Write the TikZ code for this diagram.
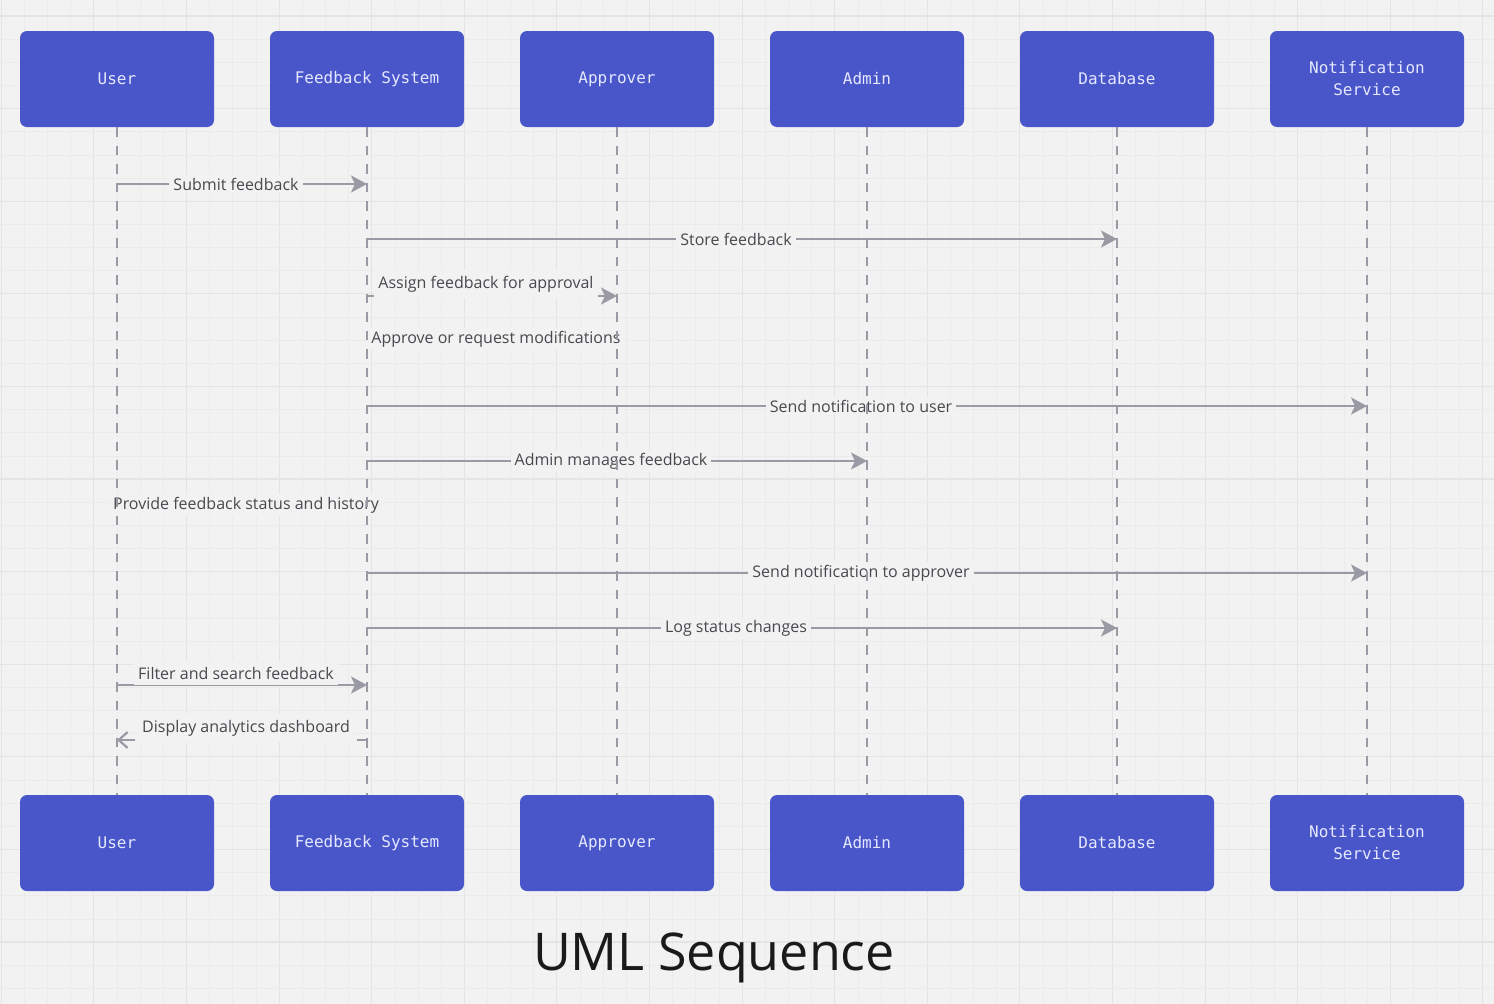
\documentclass[tikz,border=0pt]{standalone}
\usepackage{fontspec}
\setmainfont{Open Sans}
\newfontfamily\boxmono{DejaVu Sans Mono}
\newfontfamily\lblfont{Open Sans}
\usetikzlibrary{arrows.meta}
\definecolor{bgc}{HTML}{F2F2F2}
\definecolor{gridminor}{HTML}{EBEBEB}
\definecolor{gridmajor}{HTML}{E4E4E4}
\definecolor{boxblue}{HTML}{4856C9}
\definecolor{boxtext}{HTML}{E6E8FF}
\definecolor{linec}{HTML}{9A9AA4}
\definecolor{lblc}{HTML}{48484E}
\definecolor{titlec}{HTML}{1A1A1A}
\begin{document}
\begin{tikzpicture}[x=1pt,y=-1pt,
  actor/.style={rectangle,rounded corners=7pt,fill=boxblue,minimum width=194pt,minimum height=96pt,
    font=\boxmono\fontsize{16}{22}\selectfont,text=boxtext,align=center,inner sep=0pt},
  life/.style={draw=linec,line width=2.3pt,dash pattern=on 9.5pt off 9pt},
  msg/.style={draw=linec,line width=2.2pt,-{Stealth[length=16pt,width=17pt,inset=4pt]}},
  retmsg/.style={draw=linec,line width=2.2pt,dash pattern=on 18pt off 6pt,-{Straight Barb[length=9pt,width=16pt,line width=2.2pt]}},
  plain/.style={draw=linec,line width=2.2pt},
  lbl/.style={fill=bgc,text=lblc,font=\lblfont\fontsize{16}{19}\selectfont,inner xsep=4pt,inner ysep=3pt}]
\useasboundingbox (0,0) rectangle (1494,1004);
\fill[bgc] (0,0) rectangle (1494,1004);
% grid
\foreach \i in {0,...,65}{
  \pgfmathsetmacro{\gx}{1.3+\i*23.15}
  \pgfmathtruncatemacro{\mj}{mod(\i,4)}
  \ifnum\mj=0 \draw[gridmajor,line width=1.1pt] (\gx,0) -- (\gx,1004);
  \else \draw[gridminor,line width=0.7pt] (\gx,0) -- (\gx,1004); \fi
}
\foreach \j in {0,...,43}{
  \pgfmathsetmacro{\gy}{16+\j*23.15}
  \pgfmathtruncatemacro{\mj}{mod(\j,4)}
  \ifnum\mj=0 \draw[gridmajor,line width=1.1pt] (0,\gy) -- (1494,\gy);
  \else \draw[gridminor,line width=0.7pt] (0,\gy) -- (1494,\gy); \fi
}
% actors
\node[actor] (u1)  at (117,79) {User};
\node[actor] (f1)  at (367,79) {Feedback System};
\node[actor] (a1)  at (617,79) {Approver};
\node[actor] (ad1) at (867,79) {Admin};
\node[actor] (db1) at (1117,79) {Database};
\node[actor] (n1)  at (1367,79) {Notification\\Service};
\node[actor] (u2)  at (117,843) {User};
\node[actor] (f2)  at (367,843) {Feedback System};
\node[actor] (a2)  at (617,843) {Approver};
\node[actor] (ad2) at (867,843) {Admin};
\node[actor] (db2) at (1117,843) {Database};
\node[actor] (n2)  at (1367,843) {Notification\\Service};
% messages
\draw[msg] (u1 |- 0,184) -- (f1 |- 0,184);
\node[lbl] (l1) at (236,184) {Submit feedback};
\draw[msg] (f1 |- 0,239) -- (db1 |- 0,239);
\node[lbl] (l2) at (736,239) {Store feedback};
\draw[msg] (f1 |- 0,303) |- (a1 |- 0,296);
\node[lbl,inner ysep=6pt] (l3) at (486,284) {Assign feedback for approval};
\draw[plain] (a1 |- 0,339) -- (f1 |- 0,339);
\node[lbl] (l4) at (496,339) {Approve or request modifications};
\draw[msg] (f1 |- 0,406) -- (n1 |- 0,406);
\node[lbl] (l5) at (861,406) {Send notification to user};
\draw[msg] (f1 |- 0,461) -- (ad1 |- 0,461);
\node[lbl] (l6) at (611,461) {Admin manages feedback};
\draw[plain] (f1 |- 0,505) -- (u1 |- 0,505);
\node[lbl] (l7) at (246,505) {Provide feedback status and history};
\draw[msg] (f1 |- 0,573) -- (n1 |- 0,573);
\node[lbl] (l8) at (861,573) {Send notification to approver};
\draw[msg] (f1 |- 0,628) -- (db1 |- 0,628);
\node[lbl] (l9) at (736,628) {Log status changes};
\draw[msg] (u1 |- 0,692) |- (f1 |- 0,685);
\node[lbl,inner ysep=6pt] (l10) at (236,673) {Filter and search feedback};
\draw[retmsg] (f1 |- 0,748) |- (u1 |- 0,740);
\node[lbl,inner ysep=6pt] (l11) at (246,728) {Display analytics dashboard};
% lifelines
\draw[life] (u1.south) -- (u2.north);
\draw[life] (f1.south) -- (f2.north);
\draw[life] (a1.south) -- (a2.north);
\draw[life] (ad1.south) -- (ad2.north);
\draw[life] (db1.south) -- (db2.north);
\draw[life] (n1.south) -- (n2.north);
% title
\node[text=titlec,font=\fontsize{52}{60}\selectfont,anchor=base] (title) at (714,970) {UML Sequence};
\end{tikzpicture}
\end{document}
